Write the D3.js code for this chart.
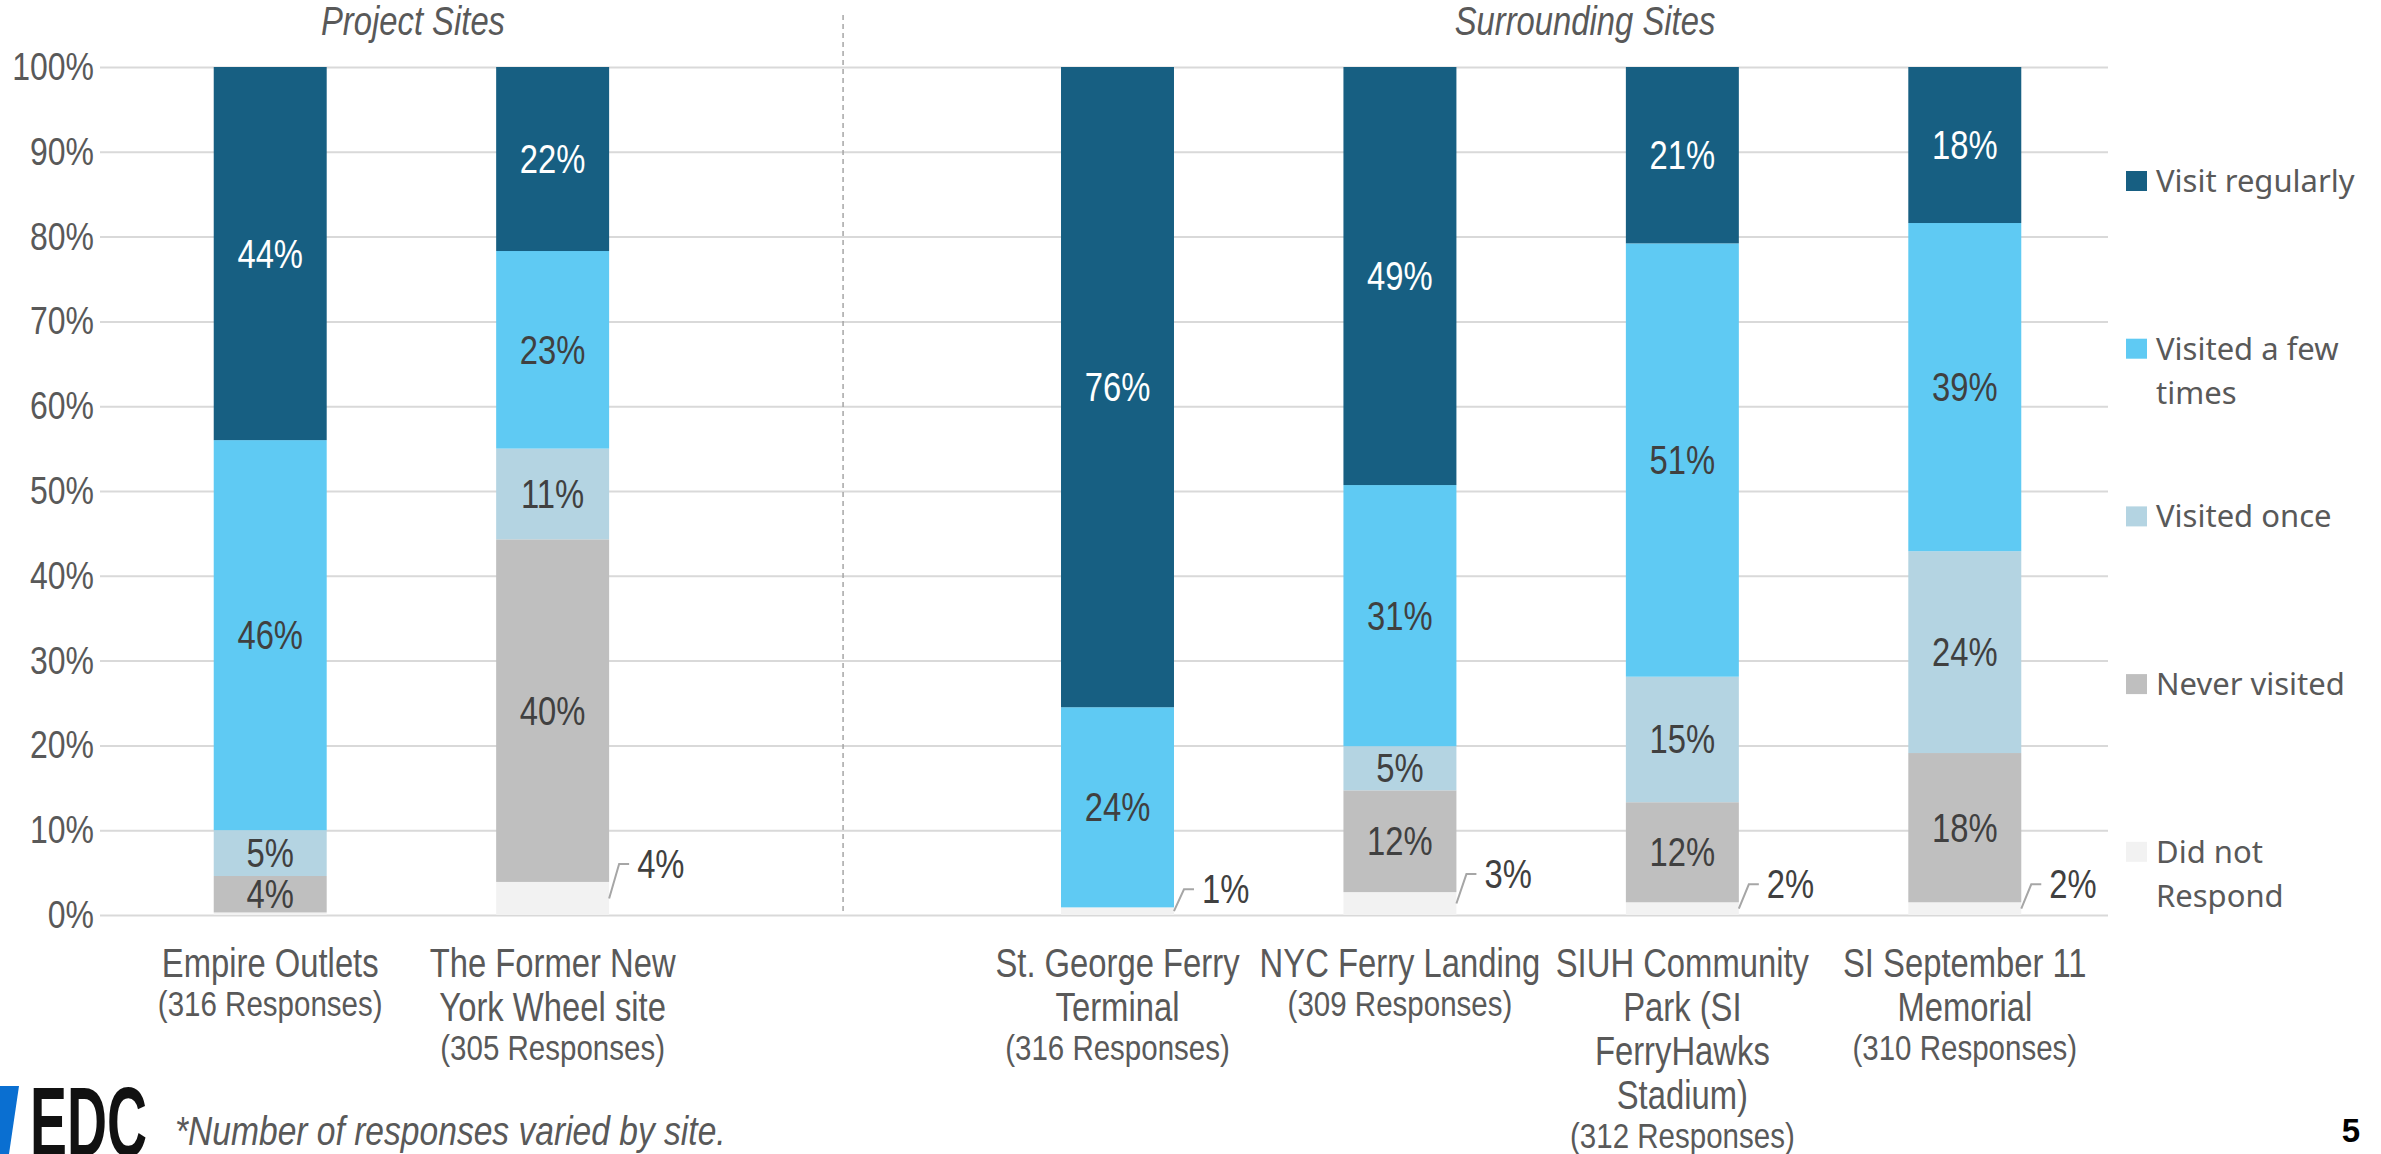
<!DOCTYPE html>
<html>
<head>
<meta charset="utf-8">
<script src="https://cdn.jsdelivr.net/npm/d3@7"></script>
<style>
  html, body { margin: 0; padding: 0; background: #ffffff; }
  svg { display: block; }
</style>
</head>
<body>
<svg id="chart" width="2381" height="1154"></svg>
<script>
// ---------------- DATA ----------------
const categories = ["Empire Outlets", "The Former New York Wheel site", "St. George Ferry Terminal", "NYC Ferry Landing", "SIUH Community Park (SI FerryHawks Stadium)", "SI September 11 Memorial"];
const categoryLines = [["Empire Outlets"], ["The Former New", "York Wheel site"], ["St. George Ferry", "Terminal"], ["NYC Ferry Landing"], ["SIUH Community", "Park (SI", "FerryHawks", "Stadium)"], ["SI September 11", "Memorial"]];
const responses = [316, 305, 316, 309, 312, 310];
const groups = ["Project Sites", "Project Sites", "Surrounding Sites", "Surrounding Sites", "Surrounding Sites", "Surrounding Sites"];

const seriesNames = ["Did not Respond", "Never visited", "Visited once", "Visited a few times", "Visit regularly"];
const didNotRespond = [0.3, 3.9, 0.9, 2.7, 1.5, 1.5];
const neverVisited = [4.3, 40.4, 0, 12.0, 11.8, 17.6];
const visitedOnce = [5.4, 10.7, 0, 5.2, 14.8, 23.8];
const visitedFewTimes = [46.0, 23.3, 23.6, 30.8, 51.1, 38.7];
const visitRegularly = [44.0, 21.7, 75.5, 49.3, 20.8, 18.4];
const seriesValues = [didNotRespond, neverVisited, visitedOnce, visitedFewTimes, visitRegularly];

const yTicks = [0, 10, 20, 30, 40, 50, 60, 70, 80, 90, 100];
const footnote = "*Number of responses varied by site.";
const pageNumber = "5";

// ---------------- STYLE ----------------
const colors = ["#f2f2f2", "#bfbfbf", "#b4d4e2", "#5fcaf3", "#175f82"];
const labelColors = ["#404040", "#404040", "#404040", "#404040", "#ffffff"];
const baseFont = "'Liberation Sans', Arial, sans-serif";
const SX = 0.82; // horizontal compression to emulate a narrow face
const textGray = "#595959";

const svg = d3.select("#chart");
svg.append("rect").attr("width", 2381).attr("height", 1154).attr("fill", "#fff");

// helper: condensed text
function ntext(parent, x, y, str, o = {}) {
  const g = parent.append("g").attr("transform", `translate(${x},${y}) scale(${o.sx || SX},1)`);
  const t = g.append("text").attr("x", 0).attr("y", 0).attr("dy", o.dy || "0.35em")
    .attr("text-anchor", o.anchor || "middle").attr("fill", o.fill || textGray)
    .style("font-family", baseFont).style("font-size", (o.size || 40) + "px")
    .style("font-style", o.italic ? "italic" : "normal")
    .style("font-weight", o.weight || "normal")
    .text(str);
  return t;
}

// slots with a gap between the two groups
const slots = [];
categories.forEach((c, i) => {
  if (i > 0 && groups[i] !== groups[i - 1]) slots.push("__gap__");
  slots.push(c);
});

const x = d3.scaleBand().domain(slots).range([129, 2106]).paddingInner(0.6).paddingOuter(0.3);
const y = d3.scaleLinear().domain([0, 100]).range([915, 67]);
const gridLeft = 100, gridRight = 2108;

// rows for stacking
const rows = categories.map((c, i) => {
  const r = { cat: c };
  seriesNames.forEach((s, k) => r[s] = seriesValues[k][i]);
  return r;
});
const stacked = d3.stack().keys(seriesNames)(rows);

// ---- gridlines + y axis ----
const yAxis = d3.axisLeft(y).tickValues(yTicks).tickFormat(d => d + "%")
  .tickSizeInner(-(gridRight - gridLeft)).tickSizeOuter(0).tickPadding(6);
const gy = svg.append("g").attr("transform", `translate(${gridLeft},0)`).call(yAxis);
gy.select(".domain").remove();
gy.selectAll(".tick line").attr("stroke", "#d9d9d9").attr("stroke-width", 2);
gy.selectAll(".tick text").attr("fill", textGray).style("font-family", baseFont).style("font-size", "39px")
  .attr("x", -6 / SX).attr("transform", `scale(${SX},1)`);

// ---- divider ----
const gapX = x("__gap__") + x.bandwidth() / 2;
svg.append("line").attr("x1", gapX + 8).attr("x2", gapX + 8).attr("y1", 15).attr("y2", y(0))
  .attr("stroke", "#a6a6a6").attr("stroke-width", 1.5).attr("stroke-dasharray", "5,4");

// ---- group titles ----
const titleData = [{ t: "Project Sites", x: 413 }, { t: "Surrounding Sites", x: 1585 }];
titleData.forEach(d => ntext(svg, d.x, 21, d.t, { italic: true, size: 40, fill: "#595959" }));

// ---- bars ----
const layers = svg.append("g").selectAll("g").data(stacked).join("g")
  .attr("fill", (d, i) => colors[i]);
layers.selectAll("rect").data(d => d.map(p => ({ p, key: d.key, cat: p.data.cat }))).join("rect")
  .attr("x", d => x(d.cat)).attr("width", x.bandwidth())
  .attr("y", d => y(d.p[1])).attr("height", d => Math.max(0, y(d.p[0]) - y(d.p[1])));

// ---- inside labels (all series except Did not Respond) ----
const il = svg.append("g");
stacked.forEach((layer, k) => {
  if (k === 0) return;
  layer.filter(p => (p[1] - p[0]) >= 0.5).forEach(p => {
    ntext(il, x(p.data.cat) + x.bandwidth() / 2, y((p[0] + p[1]) / 2),
      Math.round(p[1] - p[0]) + "%", { fill: labelColors[k], size: 40 });
  });
});

// ---- outside labels with leader lines (Did not Respond) ----
const dnr = stacked[0].filter(p => (p[1] - p[0]) >= 0.5);
const lg = svg.append("g");
dnr.forEach(p => {
  const right = x(p.data.cat) + x.bandwidth();
  const sy = y((p[0] + p[1]) / 2);
  const ly = y(p[1]) - 18;
  lg.append("polyline")
    .attr("points", [[right, sy], [right + 10, ly], [right + 20, ly]].map(a => a.join(",")).join(" "))
    .attr("fill", "none").attr("stroke", "#a6a6a6").attr("stroke-width", 2);
  ntext(lg, right + 28, ly, Math.round(p[1] - p[0]) + "%", { anchor: "start", fill: "#404040", size: 40 });
});

// ---- category labels ----
const cl = svg.append("g");
categories.forEach((c, i) => {
  const cx = x(c) + x.bandwidth() / 2;
  const lines = categoryLines[i];
  lines.forEach((ln, j) => ntext(cl, cx, 963 + j * 44, ln, { size: 40 }));
  ntext(cl, cx, 963 + (lines.length - 1) * 44 + 40, `(${responses[i]} Responses)`, { size: 36 });
});

// ---- legend ----
const legendOrder = seriesNames.map((s, i) => ({ s, i })).reverse();
const legendLines = { "Visited a few times": ["Visited a few", "times"], "Did not Respond": ["Did not", "Respond"] };
const leg = svg.append("g");
legendOrder.forEach((d, j) => {
  const cy = 181 + j * 167.7;
  leg.append("rect").attr("x", 2126).attr("y", cy - 10).attr("width", 21).attr("height", 20).attr("fill", colors[d.i]);
  const lines = legendLines[d.s] || [d.s];
  const t = leg.append("text").attr("fill", textGray).style("font-family", "'Noto Sans', 'Open Sans', sans-serif").style("font-size", "31px");
  lines.forEach((ln, k) => t.append("tspan").attr("x", 2156).attr("y", cy + k * 44).attr("dy", "0.35em").text(ln));
});

// ---- footer ----
svg.append("polygon").attr("points", "0,1086 19,1086 9,1154 0,1154").attr("fill", "#0a6fd1");
svg.append("text").attr("x", 30).attr("y", 1156).attr("textLength", 117).attr("lengthAdjust", "spacingAndGlyphs")
  .attr("fill", "#111").style("font-family", baseFont).style("font-weight", "bold").style("font-size", "98px").text("EDC");
ntext(svg, 175, 1131, footnote, { anchor: "start", italic: true, size: 40, sx: 0.84 });
svg.append("text").attr("x", 2360).attr("y", 1142).attr("text-anchor", "end").attr("fill", "#000")
  .style("font-family", baseFont).style("font-weight", "bold").style("font-size", "33px").text(pageNumber);
</script>
</body>
</html>
